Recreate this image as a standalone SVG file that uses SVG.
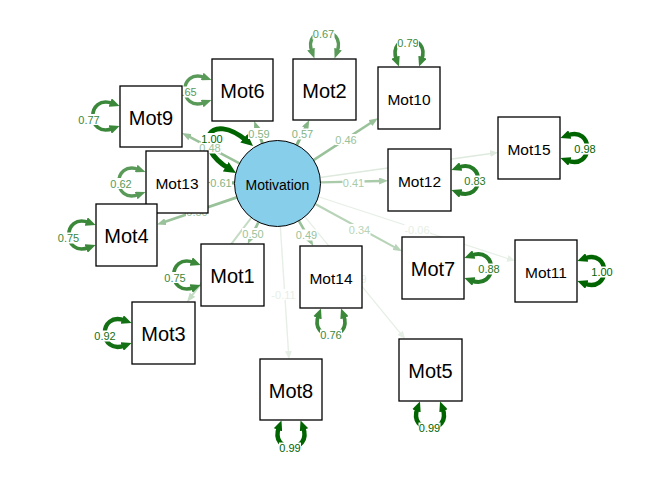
<svg xmlns="http://www.w3.org/2000/svg" width="672" height="480" viewBox="0 0 672 480">
<defs>
<style>
.bx{fill:#fff;stroke:#000;stroke-width:1.3}
.nt{font-family:"Liberation Sans",Arial,sans-serif;fill:#000;text-anchor:middle;dominant-baseline:central}
.big{font-size:20px}
.mid{font-size:15.5px}
.lat{font-size:14px}
.ed{fill:none}
.lb{fill:#fff}
.lt{font-family:"Liberation Sans",Arial,sans-serif;font-size:11px;text-anchor:middle;dominant-baseline:central}
.cR100{stroke:#006400}.fR100{fill:#006400}
.cR92{stroke:#147014}.fR92{fill:#147014}
.cR85{stroke:#257A25}.fR85{fill:#257A25}
.cR77{stroke:#3B883B}.fR77{fill:#3B883B}
.cR65{stroke:#599A59}.fR65{fill:#599A59}
.cL60{stroke:#84B484}.fL60{fill:#84B484}
.cL48{stroke:#9AC29A}.fL48{fill:#9AC29A}
.cL41{stroke:#A9CBA9}.fL41{fill:#A9CBA9}
.cL34{stroke:#B8D4B8}.fL34{fill:#B8D4B8}
.cL28{stroke:#C4DBC4}.fL28{fill:#C4DBC4}
.cL12{stroke:#DEEADE}.fL12{fill:#DEEADE}
.cL08{stroke:#E6EFE6}.fL08{fill:#E6EFE6}
</style>
<marker id="mLat" markerUnits="userSpaceOnUse" markerWidth="12" markerHeight="11" refX="4" refY="5.5" orient="auto-start-reverse"><path d="M0,0 L12,5.5 L0,11 z" class="fR100"/></marker>
<marker id="mR100" markerUnits="userSpaceOnUse" markerWidth="10" markerHeight="9" refX="3" refY="4.5" orient="auto-start-reverse"><path d="M0,0 L10,4.5 L0,9 z" class="fR100"/></marker>
<marker id="mR92" markerUnits="userSpaceOnUse" markerWidth="10" markerHeight="9" refX="3" refY="4.5" orient="auto-start-reverse"><path d="M0,0 L10,4.5 L0,9 z" class="fR92"/></marker>
<marker id="mR85" markerUnits="userSpaceOnUse" markerWidth="10" markerHeight="9" refX="3" refY="4.5" orient="auto-start-reverse"><path d="M0,0 L10,4.5 L0,9 z" class="fR85"/></marker>
<marker id="mR77" markerUnits="userSpaceOnUse" markerWidth="10" markerHeight="9" refX="3" refY="4.5" orient="auto-start-reverse"><path d="M0,0 L10,4.5 L0,9 z" class="fR77"/></marker>
<marker id="mR65" markerUnits="userSpaceOnUse" markerWidth="10" markerHeight="8" refX="3" refY="4" orient="auto-start-reverse"><path d="M0,0 L10,4 L0,8 z" class="fR65"/></marker>
<marker id="mL60" markerUnits="userSpaceOnUse" markerWidth="9" markerHeight="7" refX="2" refY="3.5" orient="auto"><path d="M0,0 L9,3.5 L0,7 z" class="fL60"/></marker>
<marker id="mL48" markerUnits="userSpaceOnUse" markerWidth="9" markerHeight="7" refX="2" refY="3.5" orient="auto"><path d="M0,0 L9,3.5 L0,7 z" class="fL48"/></marker>
<marker id="mL41" markerUnits="userSpaceOnUse" markerWidth="9" markerHeight="7" refX="2" refY="3.5" orient="auto"><path d="M0,0 L9,3.5 L0,7 z" class="fL41"/></marker>
<marker id="mL34" markerUnits="userSpaceOnUse" markerWidth="9" markerHeight="7" refX="2" refY="3.5" orient="auto"><path d="M0,0 L9,3.5 L0,7 z" class="fL34"/></marker>
<marker id="mL28" markerUnits="userSpaceOnUse" markerWidth="9" markerHeight="7" refX="2" refY="3.5" orient="auto"><path d="M0,0 L9,3.5 L0,7 z" class="fL28"/></marker>
<marker id="mL12" markerUnits="userSpaceOnUse" markerWidth="8" markerHeight="7" refX="1" refY="3.5" orient="auto"><path d="M0,0 L8,3.5 L0,7 z" class="fL12"/></marker>
<marker id="mL08" markerUnits="userSpaceOnUse" markerWidth="8" markerHeight="7" refX="1" refY="3.5" orient="auto"><path d="M0,0 L8,3.5 L0,7 z" class="fL08"/></marker>
</defs>
<rect width="672" height="480" fill="#fff"/>
<g id="connectors">
<!-- loadings -->
<line x1="239.5" y1="163.4" x2="188.2" y2="136.2" class="cL48" stroke-width="2.6" marker-end="url(#mL48)"/>
<line x1="262.4" y1="143.2" x2="256.6" y2="127.6" class="cL60" stroke-width="3" marker-end="url(#mL60)"/>
<line x1="296.7" y1="145" x2="306.1" y2="126.3" class="cL60" stroke-width="3" marker-end="url(#mL60)"/>
<line x1="313.5" y1="160.1" x2="372.1" y2="122" class="cL48" stroke-width="2.6" marker-end="url(#mL48)"/>
<line x1="320.5" y1="182.4" x2="381" y2="181" class="cL41" stroke-width="2.4" marker-end="url(#mL41)"/>
<line x1="320.1" y1="177.5" x2="491.1" y2="153.4" class="cL12" stroke-width="1.5" marker-end="url(#mL12)"/>
<line x1="315.3" y1="204" x2="395.8" y2="247.9" class="cL34" stroke-width="2.2" marker-end="url(#mL34)"/>
<line x1="318.4" y1="196.8" x2="508.3" y2="258.7" class="cL08" stroke-width="1.2" marker-end="url(#mL08)"/>
<line x1="304.8" y1="216.7" x2="400.7" y2="333.6" class="cL08" stroke-width="1.3" marker-end="url(#mL08)"/>
<line x1="298.9" y1="220.8" x2="309.8" y2="239.9" class="cL48" stroke-width="2.6" marker-end="url(#mL48)"/>
<line x1="280.3" y1="226.4" x2="288.5" y2="352" class="cL08" stroke-width="1.4" marker-end="url(#mL08)"/>
<line x1="258.5" y1="222.1" x2="250.8" y2="237.7" class="cL48" stroke-width="2.7" marker-end="url(#mL48)"/>
<line x1="251.4" y1="217.7" x2="191.3" y2="296.4" class="cL28" stroke-width="2" marker-end="url(#mL28)"/>
<line x1="236.8" y1="197.4" x2="163.6" y2="222.3" class="cL48" stroke-width="2.7" marker-end="url(#mL48)"/>
<line x1="234.5" y1="182.9" x2="215" y2="182.6" class="cL60" stroke-width="3.1" marker-end="url(#mL60)"/>
<!-- residual variances -->
<path d="M229.2,168.8 C190,145 210,110 246.9,140.9" class="ed cR100" stroke-width="5" marker-start="url(#mLat)" marker-end="url(#mLat)"/>
<path d="M113,103.5 C86,93.5 86,138.5 113,128.5" class="ed cR77" stroke-width="3.7" marker-start="url(#mR77)" marker-end="url(#mR77)"/>
<path d="M205,77.5 C178,67.5 178,112.5 205,102.5" class="ed cR65" stroke-width="3.3" marker-start="url(#mR65)" marker-end="url(#mR65)"/>
<path d="M312,52 C302,25 347,25 337,52" class="ed cR65" stroke-width="3.4" marker-start="url(#mR65)" marker-end="url(#mR65)"/>
<path d="M396.5,60 C386.5,33 431.5,33 421.5,60" class="ed cR77" stroke-width="3.7" marker-start="url(#mR77)" marker-end="url(#mR77)"/>
<path d="M567,135.5 C594,125.5 594,170.5 567,160.5" class="ed cR100" stroke-width="4.5" marker-start="url(#mR100)" marker-end="url(#mR100)"/>
<path d="M458,167.5 C485,157.5 485,202.5 458,192.5" class="ed cR85" stroke-width="4" marker-start="url(#mR85)" marker-end="url(#mR85)"/>
<path d="M471,255.5 C498,245.5 498,290.5 471,280.5" class="ed cR85" stroke-width="4" marker-start="url(#mR85)" marker-end="url(#mR85)"/>
<path d="M584,258.5 C611,248.5 611,293.5 584,283.5" class="ed cR100" stroke-width="4.5" marker-start="url(#mR100)" marker-end="url(#mR100)"/>
<path d="M417.5,408 C407.5,435 452.5,435 442.5,408" class="ed cR100" stroke-width="4.5" marker-start="url(#mR100)" marker-end="url(#mR100)"/>
<path d="M318.5,315 C308.5,342 353.5,342 343.5,315" class="ed cR77" stroke-width="3.7" marker-start="url(#mR77)" marker-end="url(#mR77)"/>
<path d="M279,427 C269,454 313,454 303,427" class="ed cR100" stroke-width="4.5" marker-start="url(#mR100)" marker-end="url(#mR100)"/>
<path d="M125,320.5 C98,310.5 98,355.5 125,345.5" class="ed cR92" stroke-width="4.3" marker-start="url(#mR92)" marker-end="url(#mR92)"/>
<path d="M194,262.5 C167,252.5 167,297.5 194,287.5" class="ed cR77" stroke-width="3.7" marker-start="url(#mR77)" marker-end="url(#mR77)"/>
<path d="M89,222.5 C62,212.5 62,257.5 89,247.5" class="ed cR77" stroke-width="3.7" marker-start="url(#mR77)" marker-end="url(#mR77)"/>
<path d="M139,169.5 C112,159.5 112,204.5 139,194.5" class="ed cR65" stroke-width="3.3" marker-start="url(#mR65)" marker-end="url(#mR65)"/>
<!-- labels -->
<rect class="lb" x="199" y="142.5" width="22" height="11"/><text class="lt fL48" x="210" y="148">0.48</text>
<rect class="lb" x="201" y="133" width="22" height="11"/><text class="lt fR100" x="212" y="138.5">1.00</text>
<rect class="lb" x="248" y="128" width="22" height="11"/><text class="lt fL60" x="259" y="133.5">0.59</text>
<rect class="lb" x="291.5" y="128.5" width="22" height="11"/><text class="lt fL60" x="302.5" y="134">0.57</text>
<rect class="lb" x="335" y="134" width="22" height="11"/><text class="lt fL48" x="346" y="139.5">0.46</text>
<rect class="lb" x="342.5" y="177.5" width="22" height="11"/><text class="lt fL41" x="353.5" y="183">0.41</text>
<rect class="lb" x="348.5" y="224" width="22" height="11"/><text class="lt fL34" x="359.5" y="229.5">0.34</text>
<rect class="lb" x="404" y="224.5" width="26" height="11"/><text class="lt fL08" x="417" y="230">-0.06</text>
<rect class="lb" x="345" y="273.5" width="22" height="11"/><text class="lt fL08" x="356" y="279">0.09</text>
<rect class="lb" x="295.5" y="229.5" width="22" height="11"/><text class="lt fL48" x="306.5" y="235">0.49</text>
<rect class="lb" x="270.5" y="289" width="26" height="11"/><text class="lt fL08" x="283.5" y="294.5">-0.11</text>
<rect class="lb" x="242" y="228" width="22" height="11"/><text class="lt fL48" x="253" y="233.5">0.50</text>
<rect class="lb" x="186" y="206" width="22" height="11"/><text class="lt fL48" x="197" y="211.5">0.50</text>
<rect class="lb" x="210" y="177.5" width="22" height="11"/><text class="lt fL60" x="221" y="183">0.61</text>
<rect class="lb" x="78" y="114" width="22" height="11"/><text class="lt fR77" x="89" y="119.5">0.77</text>
<rect class="lb" x="175" y="86.5" width="22" height="11"/><text class="lt fR65" x="186" y="92">0.65</text>
<rect class="lb" x="312.5" y="28.5" width="22" height="11"/><text class="lt fR65" x="323.5" y="34">0.67</text>
<rect class="lb" x="397" y="37.5" width="22" height="11"/><text class="lt fR77" x="408" y="43">0.79</text>
<rect class="lb" x="574" y="143.5" width="22" height="11"/><text class="lt fR100" x="585" y="149">0.98</text>
<rect class="lb" x="464" y="175.5" width="22" height="11"/><text class="lt fR85" x="475" y="181">0.83</text>
<rect class="lb" x="478" y="263.5" width="22" height="11"/><text class="lt fR85" x="489" y="269">0.88</text>
<rect class="lb" x="591" y="266.5" width="22" height="11"/><text class="lt fR100" x="602" y="272">1.00</text>
<rect class="lb" x="418.5" y="422.5" width="22" height="11"/><text class="lt fR100" x="429.5" y="428">0.99</text>
<rect class="lb" x="320" y="329.5" width="22" height="11"/><text class="lt fR77" x="331" y="335">0.76</text>
<rect class="lb" x="279" y="442.5" width="22" height="11"/><text class="lt fR100" x="290" y="448">0.99</text>
<rect class="lb" x="94" y="330.5" width="22" height="11"/><text class="lt fR92" x="105" y="336">0.92</text>
<rect class="lb" x="164" y="272" width="22" height="11"/><text class="lt fR77" x="175" y="277.5">0.75</text>
<rect class="lb" x="57.5" y="232.5" width="22" height="11"/><text class="lt fR77" x="68.5" y="238">0.75</text>
<rect class="lb" x="110" y="178" width="22" height="11"/><text class="lt fR65" x="121" y="183.5">0.62</text>
</g>
<g id="Motivation"><circle cx="277.5" cy="183.5" r="43" fill="#87CEEB" stroke="#000" stroke-width="1"/><text class="nt lat" x="277.5" y="184.5">Motivation</text></g>
<g id="Mot9"><rect class="bx" x="120" y="86" width="62" height="61"/><text class="nt big" x="151" y="117.5">Mot9</text></g>
<g id="Mot6"><rect class="bx" x="212" y="59" width="61" height="62"/><text class="nt big" x="242.5" y="91">Mot6</text></g>
<g id="Mot2"><rect class="bx" x="293" y="59" width="63" height="61"/><text class="nt big" x="324.5" y="90.5">Mot2</text></g>
<g id="Mot10"><rect class="bx" x="378" y="67" width="62" height="62"/><text class="nt mid" x="409" y="99">Mot10</text></g>
<g id="Mot15"><rect class="bx" x="498" y="117" width="62" height="62"/><text class="nt mid" x="529" y="149">Mot15</text></g>
<g id="Mot12"><rect class="bx" x="388" y="149" width="63" height="62"/><text class="nt mid" x="419.5" y="181">Mot12</text></g>
<g id="Mot13"><rect class="bx" x="146" y="151" width="62" height="62"/><text class="nt mid" x="177" y="183">Mot13</text></g>
<g id="Mot4"><rect class="bx" x="96" y="204" width="61" height="62"/><text class="nt big" x="126.5" y="236">Mot4</text></g>
<g id="Mot1"><rect class="bx" x="201" y="244" width="63" height="62"/><text class="nt big" x="232.5" y="276">Mot1</text></g>
<g id="Mot3"><rect class="bx" x="132" y="302" width="63" height="62"/><text class="nt big" x="163.5" y="334">Mot3</text></g>
<g id="Mot14"><rect class="bx" x="300" y="246" width="62" height="62"/><text class="nt mid" x="331" y="278">Mot14</text></g>
<g id="Mot8"><rect class="bx" x="260" y="359" width="62" height="61"/><text class="nt big" x="291" y="390.5">Mot8</text></g>
<g id="Mot7"><rect class="bx" x="402" y="237" width="62" height="62"/><text class="nt big" x="433" y="269">Mot7</text></g>
<g id="Mot11"><rect class="bx" x="515" y="240" width="62" height="62"/><text class="nt mid" x="546" y="272">Mot11</text></g>
<g id="Mot5"><rect class="bx" x="399" y="339" width="63" height="62"/><text class="nt big" x="430.5" y="371">Mot5</text></g>
</svg>
